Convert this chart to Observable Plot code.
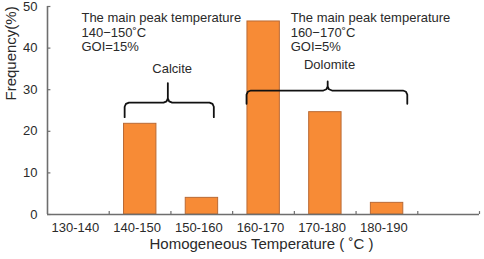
<!DOCTYPE html>
<html>
<head>
<meta charset="utf-8">
<script src="https://cdn.jsdelivr.net/npm/d3@7"></script>
<script src="https://cdn.jsdelivr.net/npm/@observablehq/plot@0.6"></script>
<style>
  html, body { margin: 0; padding: 0; background: #fff; }
  #chart svg { display: block; }
</style>
</head>
<body>
<div id="chart"></div>
<script>
// ---- data ----
const categories = ["130-140", "140-150", "150-160", "160-170", "170-180", "180-190"];
const frequency = [0, 21.8, 4.0, 46.4, 24.6, 2.8];
const yTicks = [0, 10, 20, 30, 40, 50];
const bandCount = 7; // six labelled bins plus one empty slot at the right
const xTitle = "Homogeneous Temperature ( ˚C )";
const yTitle = "Frequency(%)";
const noteTexts = [
  "The main peak temperature\n140−150˚C\nGOI=15%",
  "The main peak temperature\n160−170˚C\nGOI=5%"
];
const noteX = [0.55, 3.94];   // in bin units
const noteY = [43.9, 43.9];   // in frequency units
const braceLabels = ["Calcite", "Dolomite"];
const braceFrom = [1.25, 3.225];
const braceTo = [2.695, 5.83];
const braceTip = [1.95, 4.54];
const braceEnd = [23.4, 26.6];
const braceBar = [26.9, 29.8];
const braceTop = [31.6, 32.0];
const braceLabelX = [2.02, 4.57];
const braceLabelY = [35.1, 35.9];

// ---- derived tables ----
const bars = categories.map((c, i) => ({i, category: c, value: frequency[i]})).filter(d => d.value > 0);
const boundaries = d3.range(1, bandCount + 1);
const centers = categories.map((c, i) => i + 0.5);

const rx = 0.07, ry = 1.0;
function bracePoints(k) {
  const x1 = braceFrom[k], x2 = braceTo[k], xm = braceTip[k];
  const ye = braceEnd[k], yh = braceBar[k], yt = braceTop[k];
  const pts = [
    [x1, ye], [x1, yh - ry], [x1 + rx * 0.3, yh - ry * 0.3], [x1 + rx, yh],
    [xm - rx, yh], [xm - rx * 0.3, yh + ry * 0.3], [xm, yh + ry], [xm, yt],
    [xm, yh + ry], [xm + rx * 0.3, yh + ry * 0.3], [xm + rx, yh],
    [x2 - rx, yh], [x2 - rx * 0.3, yh - ry * 0.3], [x2, yh - ry], [x2, ye]
  ];
  return pts.map(([x, y]) => ({x, y, k}));
}
const braceData = braceLabels.flatMap((_, k) => bracePoints(k));
const braceText = braceLabels.map((t, k) => ({t, x: braceLabelX[k], y: braceLabelY[k]}));
const notes = noteTexts.map((t, k) => ({t, x: noteX[k], y: noteY[k]}));

const font = "'Liberation Sans', Arial, Helvetica, sans-serif";
const axisColor = "#6e6e6e";
const textColor = "#2a2a2a";

const chart = Plot.plot({
  width: 484,
  height: 259,
  marginLeft: 47,
  marginRight: 5,
  marginTop: 6,
  marginBottom: 45,
  style: {fontFamily: font, fontSize: "13px", color: textColor, background: "#fff"},
  x: {domain: [0, bandCount], axis: null},
  y: {domain: [0, 50], axis: null},
  marks: [
    Plot.rectY(bars, {x1: d => d.i + 0.24, x2: d => d.i + 0.765, y: "value", fill: "#f78b36", stroke: "#b96a35", strokeWidth: 1}),
    // axes lines
    Plot.ruleX([0], {y1: 0, y2: 50, stroke: axisColor, strokeWidth: 1.6}),
    Plot.ruleY([0], {x1: 0, x2: bandCount, stroke: axisColor, strokeWidth: 1.6}),
    // inward ticks
    Plot.ruleY(yTicks, {x1: 0, x2: 0.055, stroke: axisColor, strokeWidth: 1.2}),
    Plot.ruleX(boundaries, {y1: 0, y2: 0.7, stroke: axisColor, strokeWidth: 1.2}),
    // tick labels
    Plot.axisY(yTicks, {tickSize: 0, tickPadding: 10, fontSize: 13, fill: textColor, label: null}),
    Plot.axisX(centers, {tickSize: 0, tickPadding: 8, dx: -3, fontSize: 13, fill: textColor, label: null,
      tickFormat: d => categories[Math.round(d - 0.5)]}),
    // titles
    Plot.text([yTitle], {frameAnchor: "left", dx: -36, dy: -10, rotate: -90, fontSize: 15, fill: textColor, text: d => d}),
    Plot.text([xTitle], {frameAnchor: "bottom", dx: -2, dy: 34, fontSize: 15, fill: textColor, text: d => d}),
    // annotations
    Plot.line(braceData, {x: "x", y: "y", z: "k", stroke: "#111", strokeWidth: 1.8, strokeLinejoin: "round"}),
    Plot.text(braceText, {x: "x", y: "y", text: "t", fontSize: 13, fill: textColor}),
    Plot.text(notes, {x: "x", y: "y", text: "t", textAnchor: "start", lineAnchor: "middle", lineHeight: 1.12, fontSize: 13, fill: textColor})
  ]
});
document.getElementById("chart").appendChild(chart);
</script>
</body>
</html>
